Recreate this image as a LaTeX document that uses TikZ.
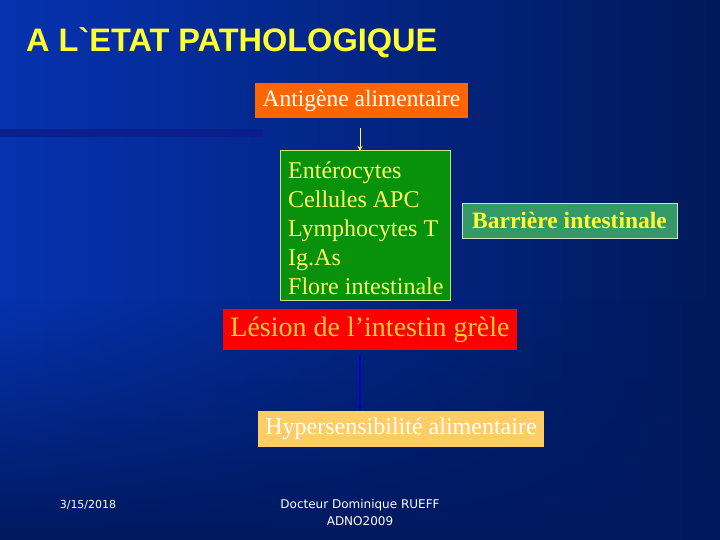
\documentclass[tikz,border=0pt]{standalone}
\usepackage{fontspec}
\setmainfont{Liberation Serif}
\newfontfamily\arialfont{Liberation Sans}
\newfontfamily\footfont{DejaVu Sans}
\usetikzlibrary{fadings,arrows.meta}
\definecolor{bgleft}{RGB}{5,50,175}
\definecolor{bgright}{RGB}{0,25,90}
\definecolor{bgbottom}{RGB}{0,25,95}
\definecolor{stripe}{RGB}{10,30,140}
\definecolor{orangebox}{RGB}{255,102,0}
\definecolor{greenbox}{RGB}{8,145,10}
\definecolor{greenborder}{RGB}{200,230,120}
\definecolor{greentext}{RGB}{255,255,102}
\definecolor{barbox}{RGB}{51,153,102}
\definecolor{barborder}{RGB}{200,230,200}
\definecolor{redbox}{RGB}{255,0,0}
\definecolor{redtext}{RGB}{255,204,51}
\definecolor{hypbox}{RGB}{255,204,102}
\definecolor{titleyellow}{RGB}{255,255,51}
\definecolor{arrowblue}{RGB}{0,0,210}
\tikzset{
  arr/.style={line width=1pt, -{Stealth[length=5pt,width=5pt]}},
}
\begin{document}
\begin{tikzpicture}[x=1pt,y=-1pt]
\useasboundingbox (0,0) rectangle (720,540);
% background
\shade[left color=bgleft, right color=bgright] (0,0) rectangle (720,540);
\fill[bgbottom, path fading=north] (0,300) rectangle (720,540);
% stripe
\fill[stripe] (0,129) rectangle (263,137);
% title
\node[anchor=west, text=titleyellow, font=\arialfont\bfseries\fontsize{32.5}{36}\selectfont, inner sep=0pt] (title) at (26,43) {A L`ETAT PATHOLOGIQUE};
% boxes
\node[fill=orangebox, minimum width=213pt, minimum height=35pt, inner sep=0pt, text=white, font=\fontsize{23.5}{26}\selectfont] (ant) at (361.5,100.5) {Antigène alimentaire};
\node[fill=greenbox, draw=greenborder, line width=0.8pt, minimum width=170pt, minimum height=150pt, inner sep=0pt] (green) at (365,225) {};
\node[anchor=base west, text=greentext, align=left, font=\fontsize{24}{29}\selectfont, inner sep=0pt] (greentxt) at (288,294) {Entérocytes\\Cellules APC\\Lymphocytes T\\Ig.As\\Flore intestinale};
\node[fill=barbox, draw=barborder, line width=0.8pt, minimum width=215pt, minimum height=35pt, inner sep=0pt, text=titleyellow, font=\bfseries\fontsize{23.5}{26}\selectfont] (bar) at (569.5,220.5) {Barrière intestinale};
\node[fill=redbox, minimum width=294pt, minimum height=41pt, inner sep=0pt, text=redtext, font=\fontsize{28}{30}\selectfont] (les) at (370,329.5) {Lésion de l’intestin grèle};
\node[fill=hypbox, minimum width=286pt, minimum height=36pt, inner sep=0pt, text=white, font=\fontsize{24}{26}\selectfont] (hyp) at (401,429) {Hypersensibilité alimentaire};
% arrows
\coordinate (a1s) at (360,128);
\coordinate (a1e) at (360,151);
\draw[titleyellow, arr] (a1s) -- (a1e);
\coordinate (a2s) at (360,355);
\coordinate (a2e) at (360,411);
\draw[arrowblue, arr, line width=1.2pt] (a2s) -- (a2e);
% footer
\node[text=white, font=\footfont\fontsize{11}{13}\selectfont, inner sep=0pt] (date) at (88,505) {3/15/2018};
\node[text=white, align=center, font=\footfont\fontsize{12}{17}\selectfont, inner sep=0pt] (auth) at (360,513) {Docteur Dominique RUEFF\\ADNO2009};
\end{tikzpicture}
\end{document}
